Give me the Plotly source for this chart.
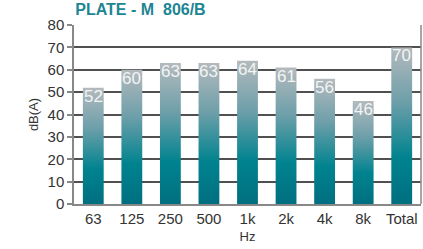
import plotly.graph_objects as go

categories = ["63", "125", "250", "500", "1k", "2k", "4k", "8k", "Total"]
values = [52, 60, 63, 63, 64, 61, 56, 46, 70]
y_ticks = [0, 10, 20, 30, 40, 50, 60, 70, 80]

title_text = "PLATE - M  806/B"
half_w = 0.27
scale = [[0.0, "#006f80"], [0.3, "#00838f"], [0.65, "#6d9fa9"], [1.0, "#b4babe"]]

fig = go.Figure()
for i, v in enumerate(values):
    fig.add_trace(go.Scatter(
        x=[i - half_w, i - half_w, i + half_w, i + half_w, i - half_w],
        y=[0, v, v, 0, 0],
        mode="lines", line=dict(width=0), fill="toself",
        fillgradient=dict(type="vertical", colorscale=scale),
        hoverinfo="skip", showlegend=False,
    ))
    fig.add_annotation(
        x=i, y=v, text=str(v), showarrow=False,
        xanchor="center", yanchor="top", yshift=2, borderpad=0,
        font=dict(family="Liberation Sans, Arial", size=17, color="#f4f4f4"),
    )

fig.update_layout(
    width=423, height=249,
    margin=dict(l=74, r=2, t=25, b=45),
    paper_bgcolor="white", plot_bgcolor="white",
    font=dict(family="Liberation Sans, Arial", color="#333333"),
    title=dict(text="<b>" + title_text + "</b>", x=0.178, xanchor="left",
               y=0.985, yanchor="top",
               font=dict(size=16, color="#1d8593")),
    xaxis=dict(
        range=[-0.5, len(values) - 0.5],
        tickvals=list(range(len(values))), ticktext=categories,
        tickfont=dict(size=15, color="#333333"),
        showgrid=False, zeroline=False,
        showline=True, linecolor="#888888", linewidth=1.5, mirror=False,
        ticks="", title=dict(text="Hz", font=dict(size=13), standoff=6),
    ),
    yaxis=dict(
        range=[0, 80], tickvals=y_ticks,
        tickfont=dict(size=15, color="#333333"),
        showgrid=True, gridcolor="#505050", gridwidth=1.5,
        zeroline=False, showline=True, linecolor="#888888", linewidth=1.5,
        ticks="outside", ticklen=5, tickcolor="#888888", tickwidth=1.5,
        title=dict(text="dB(A)", font=dict(size=13), standoff=6),
    ),
)
fig.add_shape(type="line", xref="paper", yref="paper", x0=1, x1=1, y0=0, y1=1,
              line=dict(color="#888888", width=1.5))

fig.write_html("out.html", config={"displayModeBar": False},
               post_script="document.body.style.margin='0';")
